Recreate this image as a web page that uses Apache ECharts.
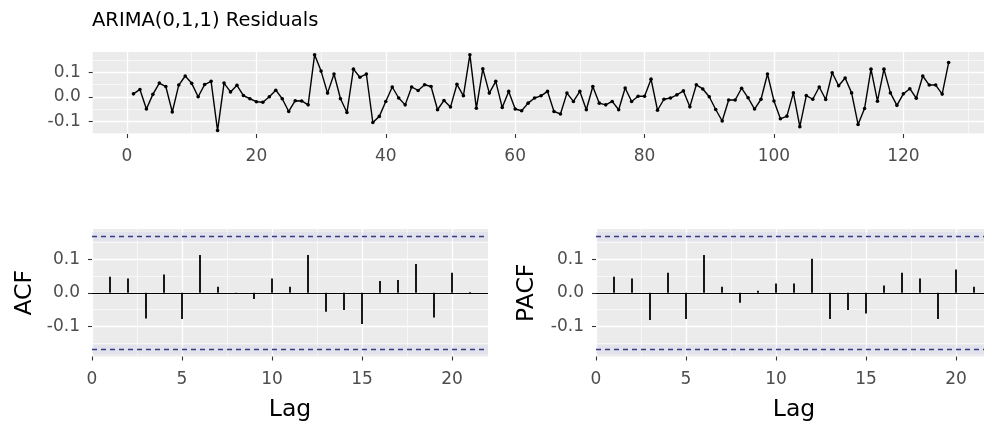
<!DOCTYPE html>
<html><head><meta charset="utf-8">
<script src="https://cdn.jsdelivr.net/npm/echarts@6/dist/echarts.min.js"></script>
<style>html,body{margin:0;padding:0;background:#fff}#c{width:984px;height:426px}</style>
</head><body><div id="c"></div>
<script>
const residuals = [
 0.012, 0.03, -0.05, 0.01, 0.056, 0.042, -0.062, 0.048, 0.085, 0.055,
 0.0, 0.05, 0.063, -0.138, 0.056, 0.02, 0.047, 0.005, -0.008, -0.02,
 -0.022, 0.0, 0.027, -0.008, -0.06, -0.016, -0.017, -0.033, 0.172, 0.105,
 0.015, 0.093, -0.008, -0.064, 0.113, 0.08, 0.093, -0.105, -0.08, -0.019,
 0.04, -0.005, -0.033, 0.04, 0.026, 0.049, 0.042, -0.053, -0.015, -0.042,
 0.051, 0.004, 0.172, -0.047, 0.114, 0.015, 0.063, -0.044, 0.022, -0.05,
 -0.057, -0.026, -0.005, 0.004, 0.022, -0.06, -0.07, 0.015, -0.019, 0.022,
 -0.053, 0.042, -0.026, -0.033, -0.019, -0.053, 0.036, -0.019, 0.002, 0.002,
 0.072, -0.055, -0.01, -0.005, 0.008, 0.024, -0.041, 0.049, 0.032, 0.0,
 -0.052, -0.099, -0.013, -0.013, 0.035, -0.004, -0.05, -0.01, 0.093, -0.017,
 -0.09, -0.079, 0.016, -0.122, 0.005, -0.01, 0.04, -0.011, 0.098, 0.045,
 0.077, 0.016, -0.113, -0.048, 0.113, -0.018, 0.113, 0.016, -0.035, 0.012,
 0.033, -0.006, 0.085, 0.048, 0.048, 0.011, 0.14
];
const lags = [1,2,3,4,5,6,7,8,9,10,11,12,13,14,15,16,17,18,19,20,21];
const acfValues = [0.048, 0.043, -0.077, 0.055, -0.079, 0.113, 0.018, 0.001, -0.019, 0.043,
  0.018, 0.113, -0.057, -0.052, -0.094, 0.035, 0.038, 0.086, -0.074, 0.06, 0.002];
const pacfValues = [0.048, 0.043, -0.082, 0.06, -0.079, 0.113, 0.018, -0.03, 0.006, 0.028,
  0.028, 0.102, -0.079, -0.052, -0.062, 0.022, 0.06, 0.043, -0.079, 0.07, 0.018];
const ciBound = 0.174;
const timeTicks = [0, 20, 40, 60, 80, 100, 120];
const lagTicks = [0, 5, 10, 15, 20];
const valueTicks = [-0.1, 0, 0.1];
const titleText = 'ARIMA(0,1,1) Residuals';

const FONT = 'DejaVu Sans';
const chart = echarts.init(document.getElementById('c'), null, {renderer: 'canvas'});

function axisCommon(ticks, margin, fmt) {
  return {
    axisLine: {show: false, onZero: false},
    axisTick: {show: true, length: 4, customValues: ticks, lineStyle: {color: '#333333', width: 1.1}},
    axisLabel: {customValues: ticks, margin: margin, color: '#4D4D4D', fontSize: 17, fontFamily: FONT,
      lineHeight: 17, showMinLabel: true, showMaxLabel: true, formatter: fmt},
    splitLine: {show: true, lineStyle: {color: '#FFFFFF', width: 1.3}},
    minorTick: {show: false, splitNumber: 2},
    minorSplitLine: {show: true, lineStyle: {color: '#FFFFFF', width: 0.6}}
  };
}
const fmtVal = v => Number(v).toFixed(1);
const fmtInt = v => String(Math.round(v));

function gridDef(left, top, width, height) {
  return {left: left, top: top, width: width, height: height, show: true,
    backgroundColor: '#EBEBEB', borderWidth: 0, containLabel: false, outerBoundsMode: 'none'};
}

const nameStyle = {fontSize: 23.5, color: '#000000', fontFamily: FONT};

function xAxisDef(gridIndex, min, max, splitNumber, ticks, name) {
  return Object.assign({type: 'value', gridIndex: gridIndex, min: min, max: max, splitNumber: splitNumber,
    name: name || '', nameLocation: 'middle', nameGap: 41, nameTextStyle: nameStyle},
    axisCommon(ticks, 14.5, fmtInt));
}
function yAxisDef(gridIndex, min, max, splitNumber, ticks, name, gap) {
  return Object.assign({type: 'value', gridIndex: gridIndex, min: min, max: max, splitNumber: splitNumber,
    name: name || '', nameLocation: 'middle', nameGap: gap || 55, nameRotate: 90, nameTextStyle: nameStyle},
    axisCommon(ticks, 12, fmtVal));
}

const ciMarkLine = {
  silent: true, symbol: ['none', 'none'], label: {show: false}, animation: false,
  data: [
    {yAxis: ciBound, lineStyle: {color: 'rgba(120,120,255,0.07)', width: 9, type: 'solid'}},
    {yAxis: -ciBound, lineStyle: {color: 'rgba(120,120,255,0.07)', width: 9, type: 'solid'}},
    {yAxis: 0, lineStyle: {color: '#000000', width: 1.2, type: 'solid'}},
    {yAxis: ciBound, lineStyle: {color: '#3a3a7e', width: 1.4, type: [5, 4]}},
    {yAxis: -ciBound, lineStyle: {color: '#3a3a7e', width: 1.4, type: [5, 4]}}
  ]
};

const option = {
  animation: false,
  textStyle: {fontFamily: FONT},
  title: {text: titleText, left: 92, top: 11, padding: 0,
    textStyle: {fontSize: 19.5, fontWeight: 'normal', color: '#000000', fontFamily: FONT, lineHeight: 20}},
  grid: [
    gridDef(92.7, 52, 896.7, 82),
    gridDef(92, 229, 396, 127.5),
    gridDef(596, 229, 396, 127.5)
  ],
  xAxis: [
    xAxisDef(0, -5.3, 133.3, 7, timeTicks),
    xAxisDef(1, 0, 22, 4, lagTicks, 'Lag'),
    xAxisDef(2, 0, 22, 4, lagTicks, 'Lag')
  ],
  yAxis: [
    yAxisDef(0, -0.152, 0.183, 3, valueTicks),
    yAxisDef(1, -0.191, 0.191, 3, valueTicks, 'ACF', 55),
    yAxisDef(2, -0.191, 0.191, 3, valueTicks, 'PACF', 57)
  ],
  series: [
    {type: 'line', xAxisIndex: 0, yAxisIndex: 0,
      data: residuals.map((v, i) => [i + 1, v]),
      symbol: 'circle', symbolSize: 3.6, showSymbol: true,
      lineStyle: {color: '#000000', width: 1.4}, itemStyle: {color: '#000000'}},
    {type: 'bar', xAxisIndex: 1, yAxisIndex: 1, barWidth: 1.8,
      data: lags.map((l, i) => [l, acfValues[i]]),
      itemStyle: {color: '#000000'}, markLine: ciMarkLine},
    {type: 'bar', xAxisIndex: 2, yAxisIndex: 2, barWidth: 1.8,
      data: lags.map((l, i) => [l, pacfValues[i]]),
      itemStyle: {color: '#000000'}, markLine: ciMarkLine}
  ]
};
chart.setOption(option);
</script>
</body></html>
